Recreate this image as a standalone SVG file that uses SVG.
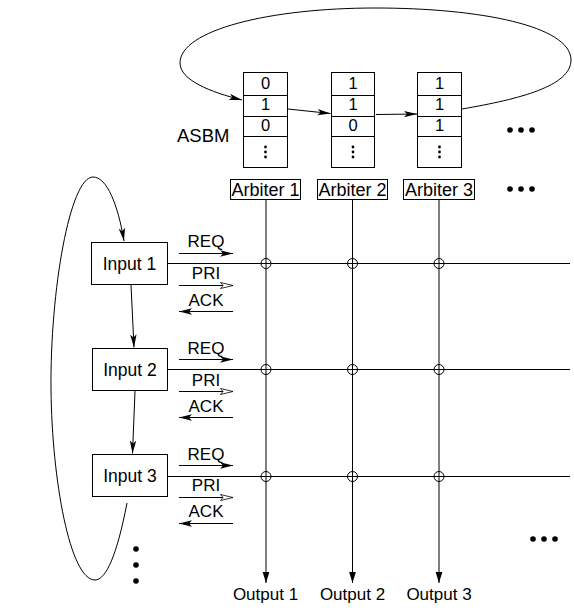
<svg xmlns="http://www.w3.org/2000/svg" width="574" height="615" viewBox="0 0 574 615">
<style>
.t{font-family:"Liberation Sans",Arial,sans-serif;fill:#000}
.box{fill:#fff;stroke:#000;stroke-width:1}
.ln{fill:none;stroke:#000;stroke-width:1}
.dot{fill:#000}
</style>
<defs>
<marker id="af" markerUnits="userSpaceOnUse" markerWidth="14" markerHeight="8" viewBox="0 0 14 8" refX="13" refY="4" orient="auto">
<path d="M0,0.8 L13,4 L0,7.2 L3,4 Z" fill="#000"/>
</marker>
<marker id="ao" markerUnits="userSpaceOnUse" markerWidth="14" markerHeight="8" viewBox="0 0 14 8" refX="13" refY="4" orient="auto">
<path d="M0.5,1 L13,4 L0.5,7 L3,4 Z" fill="#fff" stroke="#000" stroke-width="0.8"/>
</marker>
<marker id="ad" markerUnits="userSpaceOnUse" markerWidth="12" markerHeight="10" viewBox="0 0 12 10" refX="11.5" refY="5" orient="auto">
<path d="M0,1.5 L11.5,5 L0,8.5 Z" fill="#000"/>
</marker>
</defs>

<g id="asbm-label"><text class="t" x="177" y="142" font-size="18.5">ASBM</text></g>

<g id="asbm-col1">
<rect class="box" x="243.5" y="72.5" width="44" height="95"/>
<path class="ln" d="M243.5,95.5H287.5M243.5,116.5H287.5M243.5,136.5H287.5"/>
<text class="t" x="265.5" y="89" font-size="16.5" text-anchor="middle">0</text>
<text class="t" x="265.5" y="110" font-size="16.5" text-anchor="middle">1</text>
<text class="t" x="265.5" y="130.5" font-size="16.5" text-anchor="middle">0</text>
<circle class="dot" cx="265.5" cy="147" r="1.4"/><circle class="dot" cx="265.5" cy="152" r="1.4"/><circle class="dot" cx="265.5" cy="157" r="1.4"/>
</g>
<g id="asbm-col2">
<rect class="box" x="331.5" y="72.5" width="43" height="95"/>
<path class="ln" d="M331.5,95.5H374.5M331.5,116.5H374.5M331.5,136.5H374.5"/>
<text class="t" x="353" y="89" font-size="16.5" text-anchor="middle">1</text>
<text class="t" x="353" y="110" font-size="16.5" text-anchor="middle">1</text>
<text class="t" x="353" y="130.5" font-size="16.5" text-anchor="middle">0</text>
<circle class="dot" cx="353" cy="147" r="1.4"/><circle class="dot" cx="353" cy="152" r="1.4"/><circle class="dot" cx="353" cy="157" r="1.4"/>
</g>
<g id="asbm-col3">
<rect class="box" x="417.5" y="72.5" width="44" height="95"/>
<path class="ln" d="M417.5,95.5H461.5M417.5,116.5H461.5M417.5,136.5H461.5"/>
<text class="t" x="439.5" y="89" font-size="16.5" text-anchor="middle">1</text>
<text class="t" x="439.5" y="110" font-size="16.5" text-anchor="middle">1</text>
<text class="t" x="439.5" y="130.5" font-size="16.5" text-anchor="middle">1</text>
<circle class="dot" cx="439.5" cy="147" r="1.4"/><circle class="dot" cx="439.5" cy="152" r="1.4"/><circle class="dot" cx="439.5" cy="157" r="1.4"/>
</g>

<g id="arbiter1"><rect class="box" x="230.5" y="179.5" width="70" height="20"/><text class="t" x="265.5" y="195.5" font-size="18" text-anchor="middle">Arbiter 1</text></g>
<g id="arbiter2"><rect class="box" x="317.5" y="179.5" width="70" height="20"/><text class="t" x="352.5" y="195.5" font-size="18" text-anchor="middle">Arbiter 2</text></g>
<g id="arbiter3"><rect class="box" x="403.5" y="179.5" width="71" height="20"/><text class="t" x="439" y="195.5" font-size="18" text-anchor="middle">Arbiter 3</text></g>

<g id="input1"><rect class="box" x="91.5" y="242.5" width="76" height="42"/><text class="t" x="129.5" y="269.5" font-size="17.5" text-anchor="middle">Input 1</text></g>
<g id="input2"><rect class="box" x="92.5" y="348.5" width="75" height="42"/><text class="t" x="130" y="375.5" font-size="17.5" text-anchor="middle">Input 2</text></g>
<g id="input3"><rect class="box" x="92.5" y="454.5" width="75" height="42"/><text class="t" x="130" y="482" font-size="17.5" text-anchor="middle">Input 3</text></g>

<g id="signal-labels">
<text class="t" x="206" y="247" font-size="17" text-anchor="middle">REQ</text>
<text class="t" x="206" y="279" font-size="17" text-anchor="middle">PRI</text>
<text class="t" x="206" y="306" font-size="17" text-anchor="middle">ACK</text>
<text class="t" x="206" y="354" font-size="17" text-anchor="middle">REQ</text>
<text class="t" x="206" y="386" font-size="17" text-anchor="middle">PRI</text>
<text class="t" x="206" y="412" font-size="17" text-anchor="middle">ACK</text>
<text class="t" x="206" y="460" font-size="17" text-anchor="middle">REQ</text>
<text class="t" x="206" y="491" font-size="17" text-anchor="middle">PRI</text>
<text class="t" x="206" y="517" font-size="17" text-anchor="middle">ACK</text>
</g>

<g id="output-labels">
<text class="t" x="265.5" y="600" font-size="17" text-anchor="middle">Output 1</text>
<text class="t" x="352.5" y="600" font-size="17" text-anchor="middle">Output 2</text>
<text class="t" x="439" y="600" font-size="17" text-anchor="middle">Output 3</text>
</g>

<g id="connectors">
<path class="ln" d="M462,109 C520,99 571,86 571,60 C571,26 480,8 375,8 C270,8 180,30 180,63 C180,80 210,92 242,100" marker-end="url(#af)"/>
<path class="ln" d="M288,109 L330.5,113.5" marker-end="url(#af)"/>
<path class="ln" d="M376,114.5 L417,114" marker-end="url(#af)"/>
<path class="ln" d="M127,503 C117,555 106,580 95,580 C70,580 52,480 51,390 C50,290 70,177 93,177 C107,177 118,205 124,241" marker-end="url(#af)"/>
<path class="ln" d="M131,285 L134,347.5" marker-end="url(#af)"/>
<path class="ln" d="M135,391 L132.5,453.5" marker-end="url(#af)"/>
<path class="ln" d="M168,263.5H570M168,369.5H570M168,476.5H570"/>
<path class="ln" d="M266,199.5V583" marker-end="url(#ad)"/>
<path class="ln" d="M352.5,199.5V583" marker-end="url(#ad)"/>
<path class="ln" d="M439,199.5V583" marker-end="url(#ad)"/>
<g fill="none" stroke="#000" stroke-width="1">
<circle cx="266" cy="263.5" r="5"/><circle cx="352.5" cy="263.5" r="5"/><circle cx="439" cy="263.5" r="5"/>
<circle cx="266" cy="369.5" r="5"/><circle cx="352.5" cy="369.5" r="5"/><circle cx="439" cy="369.5" r="5"/>
<circle cx="266" cy="476.5" r="5"/><circle cx="352.5" cy="476.5" r="5"/><circle cx="439" cy="476.5" r="5"/>
</g>
<path class="ln" d="M179,253.5H233" marker-end="url(#af)"/>
<path class="ln" d="M179,285.5H233" marker-end="url(#ao)"/>
<path class="ln" d="M233,311.5H179" marker-end="url(#af)"/>
<path class="ln" d="M179,359.5H233" marker-end="url(#af)"/>
<path class="ln" d="M179,391.5H233" marker-end="url(#ao)"/>
<path class="ln" d="M233,417.5H179" marker-end="url(#af)"/>
<path class="ln" d="M179,465.5H233" marker-end="url(#af)"/>
<path class="ln" d="M179,497.5H233" marker-end="url(#ao)"/>
<path class="ln" d="M233,523.5H179" marker-end="url(#af)"/>
</g>

<g id="ellipses">
<circle class="dot" cx="510" cy="130" r="2.8"/><circle class="dot" cx="521" cy="130" r="2.8"/><circle class="dot" cx="532" cy="130" r="2.8"/>
<circle class="dot" cx="510" cy="189" r="2.8"/><circle class="dot" cx="521" cy="189" r="2.8"/><circle class="dot" cx="532" cy="189" r="2.8"/>
<circle class="dot" cx="533" cy="539" r="2.8"/><circle class="dot" cx="544" cy="539" r="2.8"/><circle class="dot" cx="555" cy="539" r="2.8"/>
<circle class="dot" cx="136" cy="549" r="2.8"/><circle class="dot" cx="136" cy="565" r="2.8"/><circle class="dot" cx="136" cy="581" r="2.8"/>
</g>
</svg>
